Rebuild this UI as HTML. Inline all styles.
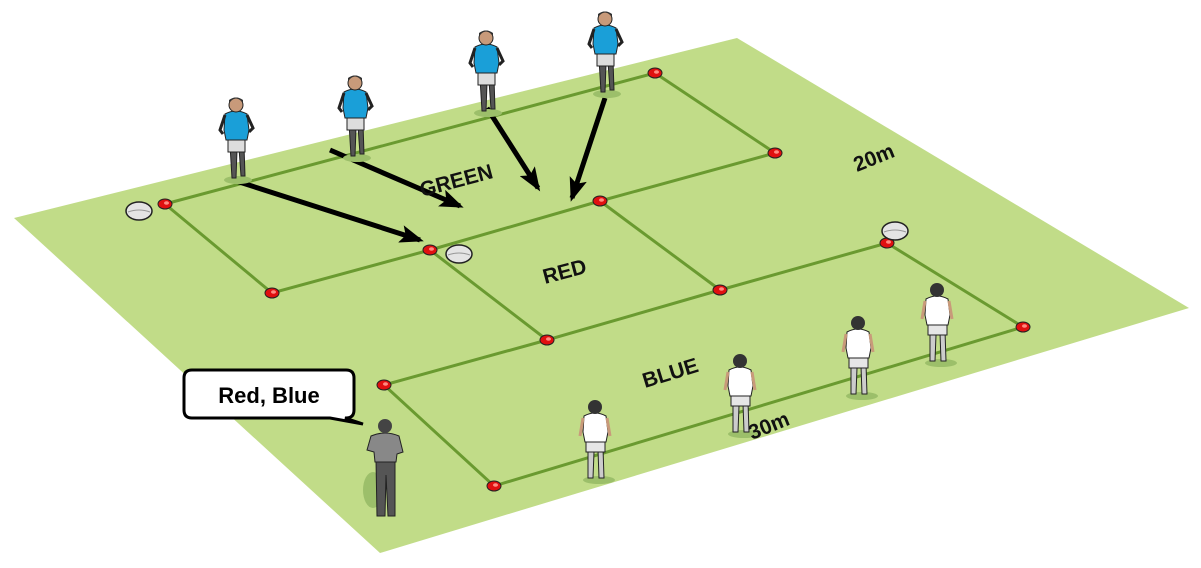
<!DOCTYPE html>
<html><head><meta charset="utf-8"><style>html,body{margin:0;padding:0;background:#fff}svg{display:block}</style></head><body>
<svg width="1201" height="568" viewBox="0 0 1201 568" xmlns="http://www.w3.org/2000/svg" font-family="Liberation Sans, sans-serif">
<defs>
<g id="cone"><ellipse cx="0" cy="0" rx="7" ry="5" fill="#e01010" stroke="#222" stroke-width="1"/><ellipse cx="1.5" cy="-1" rx="2.5" ry="1.8" fill="#ff8a80"/></g>
<g id="ball"><ellipse cx="0" cy="0" rx="13" ry="9" fill="#e4e4e4" stroke="#222" stroke-width="1.5"/><path d="M-11 1 Q0 -3 11 1" stroke="#999" fill="none"/></g>
<g id="blue"><ellipse cx="2" cy="80" rx="14" ry="4" fill="#9cbf6a"/><path d="M-6 45 L-4 78 L0 78 L1 50 M3 48 L5 76 L9 76 L8 46" fill="#555" stroke="#222" stroke-width="1"/><rect x="-8" y="38" width="17" height="14" fill="#ddd" stroke="#222" stroke-width="1"/><path d="M-11 14 Q0 8 11 14 L13 30 L11 40 L-10 40 L-12 30 Z" fill="#1a9fd8" stroke="#222" stroke-width="1"/><path d="M-11 15 L-16 30 L-13 34 M11 15 L17 28 L13 32" stroke="#222" stroke-width="3" fill="none"/><circle cx="0" cy="5" r="7" fill="#c89a7a" stroke="#222" stroke-width="1"/><path d="M-7 3 Q0 -6 7 3 L7 0 Q0 -5 -7 0Z" fill="#333"/></g>
<g id="white"><ellipse cx="4" cy="78" rx="16" ry="4" fill="#9cbf6a"/><path d="M-7 45 L-7 76 L-2 76 L-1 50 M3 48 L4 76 L9 76 L8 46" fill="#ccc" stroke="#222" stroke-width="1"/><rect x="-9" y="36" width="19" height="14" fill="#e6e6e6" stroke="#222" stroke-width="1"/><path d="M-11 14 Q0 8 11 14 L13 30 L11 40 L-10 40 L-12 30 Z" fill="#fff" stroke="#222" stroke-width="1"/><path d="M-12 16 L-15 34 M12 16 L15 34" stroke="#c89a7a" stroke-width="3"/><circle cx="0" cy="5" r="7" fill="#333"/></g>
<g id="coach"><ellipse cx="-12" cy="70" rx="10" ry="18" fill="#9cbf6a"/><path d="M-9 40 L-8 96 L0 96 L1 55 L3 96 L10 96 L10 40Z" fill="#555" stroke="#222" stroke-width="1"/><path d="M-14 16 Q0 10 14 16 L18 32 L12 34 L11 42 L-10 42 L-11 32 L-18 30Z" fill="#888" stroke="#222" stroke-width="1"/><circle cx="0" cy="6" r="7" fill="#444"/></g>
<marker id="ah" markerWidth="24" markerHeight="18" refX="20" refY="9" orient="auto" markerUnits="userSpaceOnUse"><path d="M0 0 L24 9 L0 18 L5 9Z" fill="#000"/></marker>
</defs>
<polygon points="14,218 737,38 1189,308 380,553" fill="#c1dc88"/>
<g stroke="#6a9a30" stroke-width="3" fill="none">
<polyline points="165,204 655,73 775,153"/>
<polyline points="165,204 272,293 430,250 600,201 775,153"/>
<polyline points="430,250 547,340 720,290 887,243 1023,327 494,486 384,385 547,340"/>
<line x1="600" y1="201" x2="720" y2="290"/>
</g>
<g stroke="#000" stroke-width="5" fill="none" marker-end="url(#ah)">
<line x1="233" y1="180" x2="420" y2="240"/>
<line x1="330" y1="150" x2="460" y2="206"/>
<line x1="487" y1="108" x2="538" y2="188"/>
<line x1="605" y1="98" x2="572" y2="198"/>
</g>
<use href="#cone" x="165" y="204"/><use href="#cone" x="655" y="73"/><use href="#cone" x="775" y="153"/><use href="#cone" x="600" y="201"/><use href="#cone" x="430" y="250"/><use href="#cone" x="272" y="293"/><use href="#cone" x="887" y="243"/><use href="#cone" x="720" y="290"/><use href="#cone" x="547" y="340"/><use href="#cone" x="1023" y="327"/><use href="#cone" x="384" y="385"/><use href="#cone" x="494" y="486"/>
<use href="#ball" x="139" y="211"/><use href="#ball" x="459" y="254"/><use href="#ball" x="895" y="231"/>
<use href="#blue" x="236" y="100"/><use href="#blue" x="355" y="78"/><use href="#blue" x="486" y="33"/><use href="#blue" x="605" y="14"/>
<use href="#white" x="595" y="402"/><use href="#white" x="740" y="356"/><use href="#white" x="858" y="318"/><use href="#white" x="937" y="285"/>
<use href="#coach" x="385" y="420"/>
<g font-size="21" font-weight="bold" fill="#111">
<text transform="translate(422,197) rotate(-15)">GREEN</text>
<text transform="translate(545,284) rotate(-15)">RED</text>
<text transform="translate(645,388) rotate(-17)">BLUE</text>
<text transform="translate(857,172) rotate(-22)">20m</text>
<text transform="translate(752,440) rotate(-22)">30m</text>
</g>
<path d="M192 370 H346 Q354 370 354 378 V410 Q354 418 346 418 H345 L363 424 L330 418 H192 Q184 418 184 410 V378 Q184 370 192 370Z" fill="#fff" stroke="#000" stroke-width="3"/>
<text x="269" y="403" font-size="22" font-weight="bold" text-anchor="middle" fill="#000">Red, Blue</text>
</svg>
</body></html>
